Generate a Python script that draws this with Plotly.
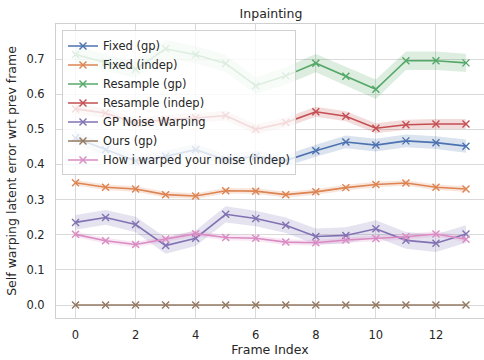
import plotly.graph_objects as go

frames = list(range(14))

fixed_gp = [0.475, 0.442, 0.410, 0.423, 0.442, 0.413, 0.423, 0.411, 0.439, 0.464, 0.455, 0.467, 0.462, 0.452]
fixed_indep = [0.348, 0.335, 0.330, 0.314, 0.310, 0.325, 0.324, 0.314, 0.322, 0.334, 0.343, 0.347, 0.335, 0.330]
resample_gp = [0.713, 0.690, 0.671, 0.729, 0.712, 0.687, 0.624, 0.652, 0.688, 0.651, 0.614, 0.695, 0.695, 0.689]
resample_indep = [0.558, 0.546, 0.518, 0.527, 0.532, 0.539, 0.500, 0.519, 0.550, 0.537, 0.503, 0.513, 0.515, 0.515]
gp_warping = [0.235, 0.249, 0.229, 0.169, 0.190, 0.258, 0.246, 0.227, 0.195, 0.198, 0.217, 0.184, 0.176, 0.202]
ours_gp = [0.0] * 14
hiwyn_indep = [0.201, 0.183, 0.172, 0.188, 0.203, 0.192, 0.190, 0.179, 0.177, 0.185, 0.189, 0.194, 0.202, 0.187]

# half-widths of shaded confidence bands
fixed_gp_err = [0.018, 0.017, 0.016, 0.016, 0.017, 0.016, 0.016, 0.016, 0.017, 0.018, 0.018, 0.018, 0.018, 0.019]
fixed_indep_err = [0.008, 0.008, 0.008, 0.008, 0.008, 0.008, 0.008, 0.008, 0.008, 0.008, 0.008, 0.008, 0.008, 0.008]
resample_gp_err = [0.025, 0.024, 0.024, 0.026, 0.025, 0.025, 0.024, 0.025, 0.026, 0.026, 0.028, 0.026, 0.026, 0.026]
resample_indep_err = [0.014, 0.014, 0.014, 0.014, 0.014, 0.014, 0.014, 0.014, 0.014, 0.014, 0.014, 0.014, 0.014, 0.014]
gp_warping_err = [0.021, 0.021, 0.022, 0.023, 0.022, 0.023, 0.022, 0.022, 0.023, 0.023, 0.024, 0.024, 0.025, 0.025]
ours_gp_err = [0.0] * 14
hiwyn_indep_err = [0.008, 0.008, 0.008, 0.008, 0.008, 0.008, 0.008, 0.008, 0.008, 0.008, 0.008, 0.008, 0.008, 0.008]

names = ["Fixed (gp)", "Fixed (indep)", "Resample (gp)", "Resample (indep)",
         "GP Noise Warping", "Ours (gp)", "How i warped your noise (indep)"]
values = [fixed_gp, fixed_indep, resample_gp, resample_indep, gp_warping, ours_gp, hiwyn_indep]
errors = [fixed_gp_err, fixed_indep_err, resample_gp_err, resample_indep_err,
          gp_warping_err, ours_gp_err, hiwyn_indep_err]
colors = ["#4c72b0", "#dd8452", "#55a868", "#c44e52", "#8172b3", "#937860", "#da8bc3"]


def rgba(hexc, a):
    h = hexc.lstrip("#")
    r, g, b = int(h[0:2], 16), int(h[2:4], 16), int(h[4:6], 16)
    return f"rgba({r},{g},{b},{a})"


fig = go.Figure()
for name, vals, err, col in zip(names, values, errors, colors):
    upper = [v + e for v, e in zip(vals, err)]
    lower = [v - e for v, e in zip(vals, err)]
    fig.add_trace(go.Scatter(x=frames, y=upper, mode="lines", line=dict(width=0),
                             showlegend=False, hoverinfo="skip"))
    fig.add_trace(go.Scatter(x=frames, y=lower, mode="lines", line=dict(width=0),
                             fill="tonexty", fillcolor=rgba(col, 0.2),
                             showlegend=False, hoverinfo="skip"))
for name, vals, col in zip(names, values, colors):
    fig.add_trace(go.Scatter(x=frames, y=vals, mode="lines+markers", name=name,
                             line=dict(color=col, width=1.6),
                             marker=dict(symbol="x-thin", size=7,
                                         line=dict(color=col, width=1.4))))

font_fam = "DejaVu Sans"
txt = "#262626"
fig.update_layout(
    width=484, height=360,
    margin=dict(l=56, r=0, t=24, b=42),
    paper_bgcolor="white", plot_bgcolor="white",
    font=dict(family=font_fam, size=11.5, color=txt),
    title=dict(text="Inpainting", x=0.56, xanchor="center", y=1 - 14 / 360,
               yanchor="middle", font=dict(size=12.5, color=txt)),
    showlegend=True,
    legend=dict(x=0.014, y=0.978, xanchor="left", yanchor="top",
                traceorder="normal",
                bgcolor="rgba(255,255,255,0.8)", bordercolor="#d0d0d0", borderwidth=1,
                font=dict(size=11.5, color=txt), tracegroupgap=0, itemwidth=30),
)
fig.update_xaxes(range=[-0.65, 13.6], tickvals=[0, 2, 4, 6, 8, 10, 12],
                 showgrid=True, gridcolor="#d9d9d9", gridwidth=1,
                 showline=True, linecolor="#d0d0d0", linewidth=1, mirror=True,
                 zeroline=False, ticks="outside", ticklen=6, tickcolor="rgba(0,0,0,0)",
                 title=dict(text="Frame Index", font=dict(size=12.5), standoff=3))
fig.update_yaxes(range=[-0.037, 0.7996], tickvals=[0, 0.1, 0.2, 0.3, 0.4, 0.5, 0.6, 0.7],
                 tickformat=".1f",
                 showgrid=True, gridcolor="#d9d9d9", gridwidth=1,
                 showline=True, linecolor="#d0d0d0", linewidth=1, mirror=True,
                 zeroline=False, ticks="outside", ticklen=8, tickcolor="rgba(0,0,0,0)",
                 title=dict(text="Self warping latent error wrt prev frame",
                            font=dict(size=12.5), standoff=7))

fig.write_html("out.html")
